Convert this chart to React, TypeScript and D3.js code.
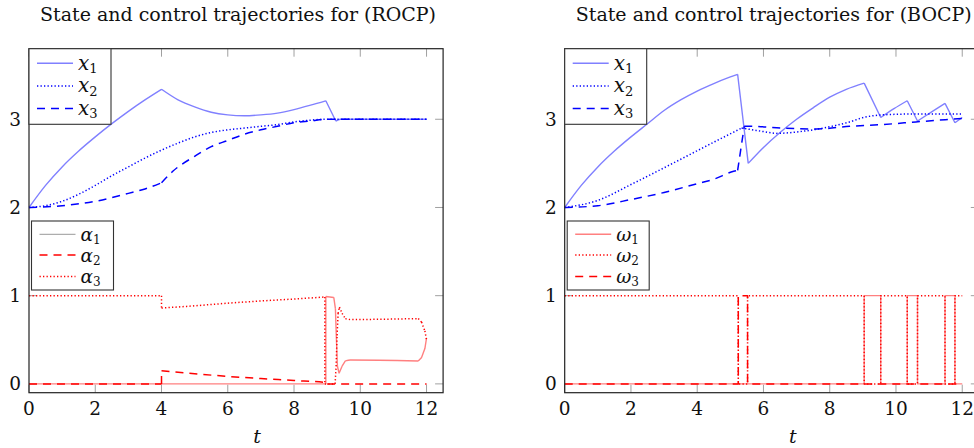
import React from 'react';
import * as d3 from 'd3';

// ---------- ticks ----------
const xTicks = [0, 2, 4, 6, 8, 10, 12];
const yTicks = [0, 1, 2, 3];

// ---------- ROCP (left) ----------
const rocpX1T = [0, 0.5, 1, 1.5, 2, 2.5, 3, 3.5, 4, 4.5, 5, 5.5, 6, 6.5, 7, 7.5, 8, 8.5, 8.96, 9.26, 9.4, 12];
const rocpX1V = [2.0, 2.25, 2.46, 2.64, 2.8, 2.95, 3.09, 3.22, 3.34, 3.22, 3.14, 3.08, 3.05, 3.04, 3.05, 3.07, 3.11, 3.16, 3.21, 2.98, 3.0, 3.0];
const rocpX2T = [0, 0.5, 1, 1.5, 2, 2.5, 3, 3.5, 4, 4.5, 5, 5.5, 6, 6.5, 7, 7.5, 8, 8.5, 9, 12];
const rocpX2V = [2.0, 2.02, 2.07, 2.15, 2.25, 2.36, 2.46, 2.56, 2.65, 2.73, 2.8, 2.85, 2.88, 2.9, 2.92, 2.94, 2.97, 2.99, 3.0, 3.0];
const rocpX3T = [0, 1, 2, 3, 3.5, 4, 4.34, 5, 5.5, 6, 6.5, 7, 7.5, 8, 8.5, 9, 12];
const rocpX3V = [2.0, 2.02, 2.07, 2.16, 2.21, 2.28, 2.41, 2.58, 2.69, 2.76, 2.83, 2.88, 2.92, 2.96, 2.98, 3.0, 3.0];

const rocpA1T = [0, 8.96, 8.96, 9.2, 9.25, 9.28, 9.31, 9.36, 9.45, 9.55, 9.7, 11.75, 11.85, 11.95, 12];
const rocpA1V = [0, 0, 0.99, 0.98, 0.85, 0.5, 0.2, 0.12, 0.2, 0.26, 0.27, 0.26, 0.3, 0.4, 0.52];
const rocpA2T = [0, 4, 4, 5, 6, 7, 8, 8.93, 9, 12];
const rocpA2V = [0, 0, 0.15, 0.115, 0.085, 0.06, 0.038, 0.015, 0, 0];
const rocpA3T = [0, 4, 4, 5, 6, 7, 8, 8.93, 8.93, 9.24, 9.27, 9.3, 9.33, 9.37, 9.45, 9.55, 9.7, 11.75, 11.85, 11.95, 12];
const rocpA3V = [1, 1, 0.86, 0.885, 0.915, 0.94, 0.962, 0.985, 0, 0, 0.2, 0.55, 0.8, 0.87, 0.8, 0.74, 0.73, 0.74, 0.7, 0.6, 0.5];

// ---------- BOCP (right) ----------
const bocpX1T = [0, 0.5, 1, 1.5, 2, 2.5, 3, 3.5, 4, 4.5, 5, 5.22, 5.54, 6, 6.5, 7, 7.5, 8, 8.5, 9.04, 9.54, 9.94, 10.34, 10.65, 11.1, 11.48, 11.78, 12];
const bocpX1V = [2.0, 2.25, 2.46, 2.64, 2.8, 2.95, 3.1, 3.22, 3.32, 3.405, 3.48, 3.51, 2.5, 2.68, 2.85, 3.0, 3.13, 3.25, 3.34, 3.41, 3.02, 3.12, 3.21, 2.98, 3.09, 3.18, 2.96, 3.02];
const bocpX2T = [0, 1, 2, 2.32, 3, 3.88, 4.5, 5.34, 5.6, 6, 6.4, 7.1, 7.8, 8.6, 9.02, 9.6, 10.6, 12];
const bocpX2V = [2.0, 2.08, 2.26, 2.32, 2.45, 2.62, 2.74, 2.9, 2.885, 2.86, 2.84, 2.86, 2.9, 2.97, 3.02, 3.05, 3.06, 3.06];
const bocpX3T = [0, 1, 2, 3, 4, 4.5, 5.1, 5.22, 5.42, 5.6, 6.6, 7.6, 8.6, 9.6, 10.6, 12];
const bocpX3V = [2.0, 2.02, 2.09, 2.17, 2.27, 2.32, 2.41, 2.42, 2.92, 2.92, 2.9, 2.89, 2.92, 2.94, 2.97, 3.01];

const bocpW1T = [0, 9.04, 9.54, 10.34, 10.65, 11.48, 11.78, 12];
const bocpW1V = [0, 1, 0, 1, 0, 1, 0, 0];
const bocpW2T = [0, 5.24, 5.52, 9.04, 9.54, 10.34, 10.65, 11.48, 11.78, 12];
const bocpW2V = [1, 0, 1, 0, 1, 0, 1, 0, 1, 1];
const bocpW3T = [0, 5.24, 5.52, 12];
const bocpW3V = [0, 1, 0, 0];

type Pt = [number, number];
const zip = (t: number[], v: number[]) => t.map((d, i) => [d, v[i]] as Pt);

// split a sampled curve at its kinks so each smooth piece can be drawn with a monotone curve
function splitAtKinks(pts: Pt[]): Pt[][] {
  const segs: Pt[][] = [];
  let cur: Pt[] = [pts[0]];
  for (let i = 1; i < pts.length; i++) {
    cur.push(pts[i]);
    if (i < pts.length - 1) {
      const a = pts[i - 1], b = pts[i], c = pts[i + 1];
      const dx1 = b[0] - a[0], dx2 = c[0] - b[0];
      let kink = dx1 === 0 || dx2 === 0;
      if (!kink) {
        const s1 = (b[1] - a[1]) / dx1, s2 = (c[1] - b[1]) / dx2;
        kink = Math.abs(s2 - s1) > 0.2;
      }
      if (kink) { segs.push(cur); cur = [pts[i]]; }
    }
  }
  segs.push(cur);
  return segs;
}

const LIGHTBLUE = '#8080ff';
const BLUE = '#0000ff';
const PINK = '#ff8080';
const RED = '#ff0000';
const DOT = '1.3 2.2';
const DASH = '8 6';
const SERIF = '"DejaVu Serif", serif';

type Series = { data: Pt[]; color: string; dash?: string; width: number; step?: boolean };
type LegendItem = { sym: string; sub: string; color: string; dash?: string; width: number };

const TOP = 48.7, BOTTOM = 392.7;

function Panel({ left, title, series, legend1, legend2 }: { left: number; title: string; series: Series[]; legend1: LegendItem[]; legend2: LegendItem[] }) {
  const right = left + 414.1;
  const x = d3.scaleLinear().domain([0, 12.5]).range([left, right]);
  const y = d3.scaleLinear().domain([-0.1, 3.8]).range([BOTTOM, TOP]);
  const tick = 8;
  const legendBox = (items: LegendItem[], bx: number, by: number, h: number, rowY: number[], baseY: number[], fs: number) => (
    <g>
      <rect x={bx} y={by} width={82} height={h} fill="white" stroke="#333" strokeWidth={1.1} />
      {items.map((it, i) => (
        <g key={i}>
          <line x1={bx + 8} x2={bx + 44} y1={rowY[i]} y2={rowY[i]} stroke={it.color} strokeWidth={it.width} strokeDasharray={it.dash} />
          <text x={bx + 49} y={baseY[i]} fontFamily={SERIF} fill="#111">
            <tspan fontStyle="italic" fontSize={fs}>{it.sym}</tspan>
            <tspan fontSize={fs * 0.65} dy={3.5}>{it.sub}</tspan>
          </text>
        </g>
      ))}
    </g>
  );
  const smooth = d3.line<Pt>().x(d => x(d[0])).y(d => y(d[1])).curve(d3.curveMonotoneX);
  const step = d3.line<Pt>().x(d => x(d[0])).y(d => y(d[1])).curve(d3.curveStepAfter);
  return (
    <g>
      <text x={(left + right) / 2 + 2} y={21} textAnchor="middle" fontFamily={SERIF} fontSize={19} fill="#111">{title}</text>
      {xTicks.map(t => (
        <g key={'xt' + t}>
          <line x1={x(t)} x2={x(t)} y1={BOTTOM} y2={BOTTOM - tick} stroke="#a0a0a0" strokeWidth={1} />
          <line x1={x(t)} x2={x(t)} y1={TOP} y2={TOP + tick} stroke="#a0a0a0" strokeWidth={1} />
          <text x={x(t)} y={BOTTOM + 22} textAnchor="middle" fontFamily={SERIF} fontSize={18.5} fill="#111">{t}</text>
        </g>
      ))}
      {yTicks.map(t => (
        <g key={'yt' + t}>
          <line x1={left} x2={left + tick} y1={y(t)} y2={y(t)} stroke="#a0a0a0" strokeWidth={1} />
          <line x1={right} x2={right - tick} y1={y(t)} y2={y(t)} stroke="#a0a0a0" strokeWidth={1} />
          <text x={left - 8} y={y(t) + 6.5} textAnchor="end" fontFamily={SERIF} fontSize={18.5} fill="#111">{t}</text>
        </g>
      ))}
      {series.map((s, i) => {
        const d = s.step ? (step(s.data) || '') : splitAtKinks(s.data).map(seg => smooth(seg) || '').join('');
        return <path key={i} d={d} fill="none" stroke={s.color} strokeWidth={s.width} strokeDasharray={s.dash} strokeLinejoin="round" />;
      })}
      <rect x={left} y={TOP} width={right - left} height={BOTTOM - TOP} fill="none" stroke="#222" strokeWidth={1.2} />
      {legendBox(legend1, left, TOP, 75.6, [63.3, 86, 108.5], [69.5, 92, 114.5], 20)}
      {legendBox(legend2, left + 2.5, 221, 69, [234.3, 255, 276.5], [240.5, 261.5, 282.5], 18.5)}
      <text x={(left + right) / 2 + 21} y={443} textAnchor="middle" fontFamily={SERIF} fontStyle="italic" fontSize={19} fill="#111">t</text>
    </g>
  );
}

export default function App() {
  const xLegend: LegendItem[] = [
    { sym: 'x', sub: '1', color: LIGHTBLUE, width: 1.4 },
    { sym: 'x', sub: '2', color: BLUE, dash: DOT, width: 1.5 },
    { sym: 'x', sub: '3', color: BLUE, dash: DASH, width: 1.5 },
  ];
  const rocpSeries: Series[] = [
    { data: zip(rocpX1T, rocpX1V), color: LIGHTBLUE, width: 1.4 },
    { data: zip(rocpX2T, rocpX2V), color: BLUE, dash: DOT, width: 1.5 },
    { data: zip(rocpX3T, rocpX3V), color: BLUE, dash: DASH, width: 1.5 },
    { data: zip(rocpA1T, rocpA1V), color: PINK, width: 1.4 },
    { data: zip(rocpA2T, rocpA2V), color: RED, dash: DASH, width: 1.5 },
    { data: zip(rocpA3T, rocpA3V), color: RED, dash: DOT, width: 1.5 },
  ];
  const bocpSeries: Series[] = [
    { data: zip(bocpX1T, bocpX1V), color: LIGHTBLUE, width: 1.4 },
    { data: zip(bocpX2T, bocpX2V), color: BLUE, dash: DOT, width: 1.5 },
    { data: zip(bocpX3T, bocpX3V), color: BLUE, dash: DASH, width: 1.5 },
    { data: zip(bocpW1T, bocpW1V), color: PINK, width: 1.4, step: true },
    { data: zip(bocpW2T, bocpW2V), color: RED, dash: DOT, width: 1.5, step: true },
    { data: zip(bocpW3T, bocpW3V), color: RED, dash: DASH, width: 1.5, step: true },
  ];
  const aLegend: LegendItem[] = [
    { sym: 'α', sub: '1', color: '#999', width: 1 },
    { sym: 'α', sub: '2', color: RED, dash: DASH, width: 1.5 },
    { sym: 'α', sub: '3', color: RED, dash: DOT, width: 1.5 },
  ];
  const wLegend: LegendItem[] = [
    { sym: 'ω', sub: '1', color: PINK, width: 1.4 },
    { sym: 'ω', sub: '2', color: RED, dash: DOT, width: 1.5 },
    { sym: 'ω', sub: '3', color: RED, dash: DASH, width: 1.5 },
  ];
  return (
    <svg width={974} height={448} style={{ position: 'absolute', left: 0, top: 0, background: 'white' }}>
      <Panel left={29} title="State and control trajectories for (ROCP)" series={rocpSeries} legend1={xLegend} legend2={aLegend} />
      <Panel left={564.7} title="State and control trajectories for (BOCP)" series={bocpSeries} legend1={xLegend} legend2={wLegend} />
    </svg>
  );
}
